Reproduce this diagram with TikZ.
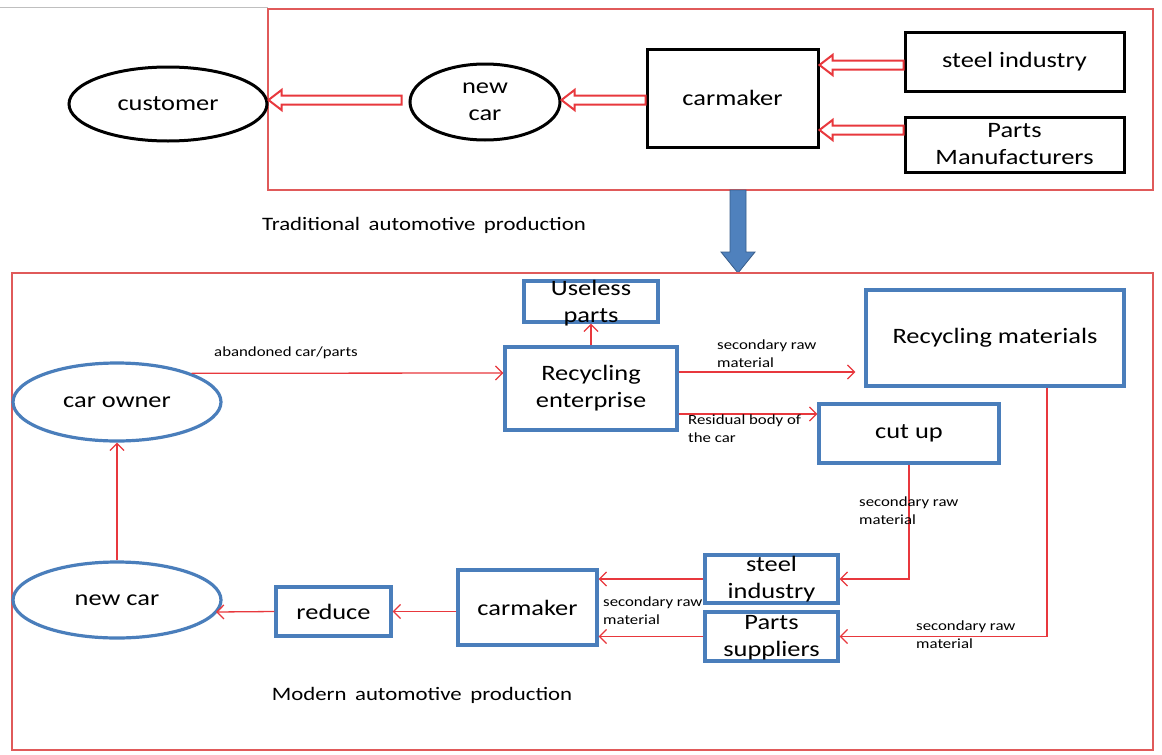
\documentclass[tikz,border=0pt]{standalone}
\usepackage{fontspec}
\setmainfont[FakeStretch=1.2]{Carlito}
\usetikzlibrary{arrows.meta,calc,shapes.geometric}
\definecolor{frame}{HTML}{E05A5A}
\definecolor{arr}{HTML}{E8383D}
\definecolor{bluebd}{HTML}{4A7EBB}
\definecolor{bigblue}{HTML}{4F81BD}
\definecolor{bigbluedark}{HTML}{385D8A}
\newcommand{\hollowarrow}[2]{%
  \draw[arr, line width=2pt, fill=white, line join=miter]
    let \p1=(#1), \p2=(#2) in
    (\x1,\y1-4.5pt) -- (\x2+13pt,\y1-4.5pt) -- (\x2+13pt,\y1-10pt) -- (\x2,\y1)
    -- (\x2+13pt,\y1+10pt) -- (\x2+13pt,\y1+4.5pt) -- (\x1,\y1+4.5pt) -- cycle;}
\newcommand{\wsp}{\hspace{0.45em}}
\tikzset{
  mainf/.style={font=\fontsize{22}{27}\selectfont, align=center},
  smallf/.style={font=\fontsize{14}{18}\selectfont, align=left, inner sep=0pt},
  capf/.style={font=\fontsize{19}{23}\selectfont, inner sep=0pt},
  blackbox/.style={draw=black, line width=3pt, inner sep=0pt, mainf},
  blackell/.style={draw=black, line width=3pt, ellipse, inner sep=0pt, mainf},
  bluebox/.style={draw=bluebd, line width=3.2pt, inner sep=0pt, mainf},
  blueell/.style={draw=bluebd, line width=3.2pt, ellipse, inner sep=0pt, mainf},
  thinarrow/.style={draw=arr, line width=1.3pt, -{Straight Barb[length=7pt,width=14pt]}},
  framebox/.style={draw=frame, line width=1.2pt}
}
\begin{document}
\begin{tikzpicture}[x=1pt,y=-1pt]
\useasboundingbox[fill=white] (0,0) rectangle (1162,755);
\draw[gray!50, line width=1pt] (0,7) -- (268,7);

% ---------- Traditional ----------
\draw[framebox] (268,9) rectangle (1153,190);
\node[blackell, minimum width=198pt, minimum height=74pt] (customer) at (168,104) {customer};
\node[blackell, minimum width=150pt, minimum height=76pt] (newcarA) at (485,102) {new\\car};
\node[blackbox, minimum width=171pt, minimum height=98pt] (carmakerA) at (732.5,98) {carmaker};
\node[blackbox, minimum width=219pt, minimum height=59pt] (steelA) at (1014.5,61.5) {steel industry};
\node[blackbox, minimum width=219pt, minimum height=55pt] (partsA) at (1014.5,144.5) {Parts\\Manufacturers};

\coordinate (sA) at ($(steelA.west)+(0,3.5)$);
\coordinate (pA) at ($(partsA.west)+(0,-14.5)$);
\coordinate (cA) at ($(carmakerA.west)+(0,2)$);
\coordinate (nA) at ($(newcarA.west)+(-7,-2)$);
\hollowarrow{sA}{carmakerA.east}
\hollowarrow{pA}{carmakerA.east}
\hollowarrow{cA}{newcarA.east}
\hollowarrow{nA}{customer.east}

\node[capf] (capA) at (424,225) {Traditional\wsp automotive\wsp production};

% big blue arrow
\draw[fill=bigblue, draw=bigbluedark, line width=0.8pt, line join=miter]
  (730,190) -- (746,190) -- (746,252) -- (755,252) -- (738,273) -- (721,252) -- (730,252) -- cycle;

% ---------- Modern ----------
\draw[framebox] (12,273) rectangle (1153,750);

\node[bluebox, minimum width=134pt, minimum height=41pt] (useless) at (591,301.5) {};
\node[mainf, inner sep=0pt] (uselesst) at (591,303.5) {Useless\\parts};
\node[bluebox, minimum width=172pt, minimum height=83pt] (recent) at (591,388.5) {Recycling\\enterprise};
\node[bluebox, minimum width=258pt, minimum height=96pt] (recmat) at (995,338) {Recycling materials};
\node[bluebox, minimum width=180pt, minimum height=59pt] (cutup) at (909,433.5) {cut up};
\node[blueell, minimum width=208pt, minimum height=78pt] (carowner) at (117,402) {car owner};
\node[blueell, minimum width=208pt, minimum height=76pt] (newcarB) at (117,600) {new car};
\node[bluebox, minimum width=115pt, minimum height=49pt] (reduce) at (333.5,611.5) {reduce};
\node[bluebox, minimum width=139pt, minimum height=75pt] (carmakerB) at (527.5,607.5) {carmaker};
\node[bluebox, minimum width=133pt, minimum height=48pt] (steelB) at (771.5,579) {};
\node[mainf, inner sep=0pt] (steelBt) at (771.5,579.5) {steel\\industry};
\node[bluebox, minimum width=133pt, minimum height=49pt] (partsB) at (771.5,636.5) {};
\node[mainf, inner sep=0pt] (partsBt) at (771.5,637.5) {Parts\\suppliers};

% connectors
\coordinate (a1e) at ($(recent.west)+(0,-15.5)$);
\draw[thinarrow] (carowner.north east) -- (a1e);
\node[smallf, anchor=west] (l1) at (214,353) {abandoned car/parts};

\draw[thinarrow] (recent.north) -- (useless.south);

\coordinate (a3s) at ($(recent.east)+(0,-16.5)$);
\coordinate (a3e) at ($(recmat.west)+(-9,34)$);
\draw[thinarrow] (a3s) -- (a3e);
\node[smallf, anchor=west] (l3) at (717,354) {secondary raw\\material};

\coordinate (a4s) at ($(recent.east)+(0,25.5)$);
\draw[thinarrow] (a4s) -- (a4s -| cutup.west);
\node[smallf, anchor=west] (l4) at (688,429) {Residual body of\\the car};

\draw[thinarrow] (cutup.south) |- (steelB.east);
\node[smallf, anchor=west] (l5) at (859,511) {secondary raw\\material};

\coordinate (a6s) at ($(recmat.south)+(52,0)$);
\draw[thinarrow] (a6s) |- (partsB.east);
\node[smallf, anchor=west] (l6) at (916,635) {secondary raw\\material};

\draw[thinarrow] (steelB.west) -- (steelB.west -| carmakerB.east);
\draw[thinarrow] (partsB.west) -- (partsB.west -| carmakerB.east);
\node[smallf, anchor=west] (l8) at (603,611) {secondary raw\\material};

\draw[thinarrow] (carmakerB.west |- reduce.east) -- (reduce.east);
\coordinate (a10e) at ($(newcarB.center)+(99,12)$);
\draw[thinarrow] (reduce.west) -- (a10e);
\draw[thinarrow] (newcarB.north) -- (carowner.south);

\node[capf] (capB) at (422,695) {Modern\wsp automotive\wsp production};
\end{tikzpicture}
\end{document}
